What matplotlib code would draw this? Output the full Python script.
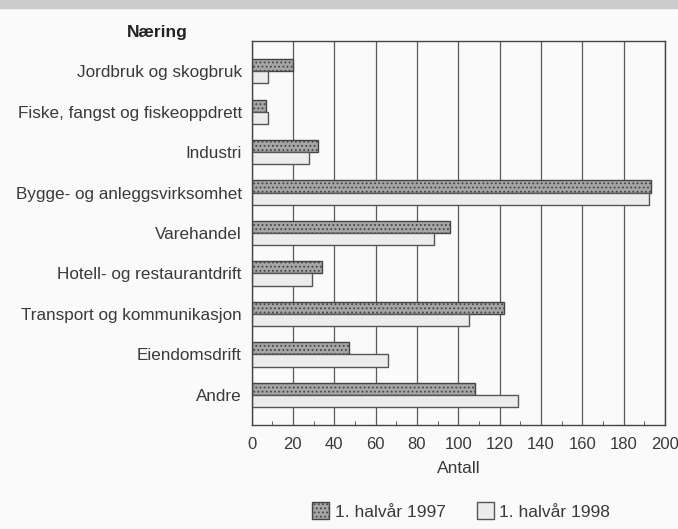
import matplotlib.pyplot as plt
import numpy as np
from matplotlib.ticker import MultipleLocator

plt.rcParams["font.family"] = ["Liberation Sans", "DejaVu Sans"]
plt.rcParams["hatch.color"] = "#6e6e6e"
plt.rcParams["hatch.linewidth"] = 0.8

categories = ["Jordbruk og skogbruk", "Fiske, fangst og fiskeoppdrett", "Industri",
              "Bygge- og anleggsvirksomhet", "Varehandel", "Hotell- og restaurantdrift",
              "Transport og kommunikasjon", "Eiendomsdrift", "Andre"]
h1997 = [20, 7, 32, 193, 96, 34, 122, 47, 108]
h1998 = [8, 8, 28, 192, 88, 29, 105, 66, 129]
xticks = [0, 20, 40, 60, 80, 100, 120, 140, 160, 180, 200]

fig = plt.figure(figsize=(6.78, 5.29), dpi=100, facecolor="#fafafa")
ax = fig.add_axes([0.371, 0.197, 0.61, 0.725])
ax.set_facecolor("#fafafa")

y = np.arange(len(categories))
h = 0.30
ax.barh(y - h / 2, h1997, h, color="#a6a6a6", edgecolor="#444444", lw=1.0,
        hatch="....", label="1. halvår 1997")
ax.barh(y + h / 2, h1998, h, color="#ececec", edgecolor="#555555", lw=1.0,
        label="1. halvår 1998")

ax.set_ylim(8.74, -0.74)
ax.set_xlim(0, 200)
ax.set_yticks(y)
ax.set_yticklabels(categories, fontsize=12.3, color="#3a3a3a")
ax.set_xticks(xticks)
ax.set_xticklabels([str(v) for v in xticks], fontsize=12, color="#3a3a3a")
ax.xaxis.set_minor_locator(MultipleLocator(10))
ax.tick_params(axis="y", length=0, pad=7)
ax.tick_params(axis="x", which="both", direction="in", color="#444444", pad=9)
ax.tick_params(axis="x", which="major", length=0)
ax.tick_params(axis="x", which="minor", length=3)
ax.xaxis.grid(True, color="#5a5a5a", lw=0.9)
ax.set_axisbelow(True)
for s in ax.spines.values():
    s.set_color("#444444")
    s.set_linewidth(1.0)

ax.set_xlabel("Antall", fontsize=12.5, color="#3a3a3a", labelpad=6)
fig.text(0.277, 0.924, "Næring", fontsize=12.5, fontweight="bold", color="#222222",
         ha="right", va="bottom")

# gray band at the top
fig.patches.append(plt.Rectangle((0, 0.985), 1, 0.015, transform=fig.transFigure,
                                 color="#cccccc", zorder=0))

leg = fig.legend(loc="lower center", bbox_to_anchor=(0.68, -0.012), ncol=2, frameon=False,
                 fontsize=12.5, handlelength=1.0, handleheight=1.1, handletextpad=0.3,
                 columnspacing=1.8)
for t in leg.get_texts():
    t.set_color("#3a3a3a")

fig.savefig("out.png", dpi=100, facecolor=fig.get_facecolor())
